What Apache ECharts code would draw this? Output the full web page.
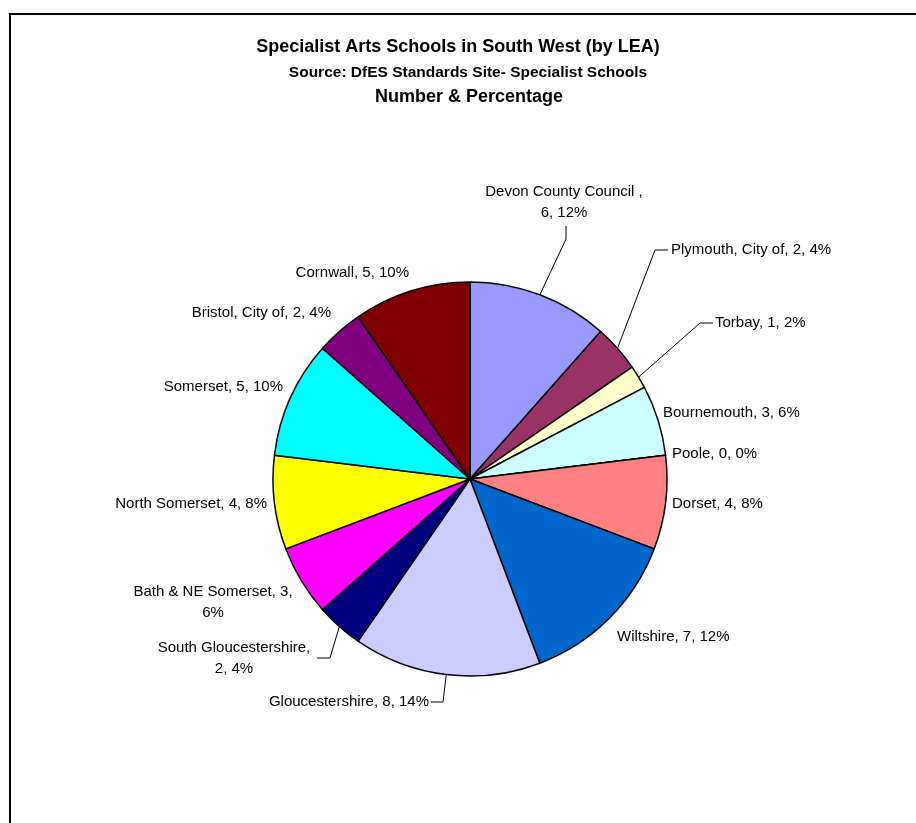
<!DOCTYPE html>
<html>
<head>
<meta charset="utf-8">
<title>Specialist Arts Schools in South West (by LEA)</title>
<script src="https://cdn.jsdelivr.net/npm/echarts@6/dist/echarts.min.js"></script>
<style>
  html, body { margin: 0; padding: 0; background: #ffffff; }
  #chart { width: 916px; height: 823px; }
</style>
</head>
<body>
<div id="chart"></div>
<script>
// Local education authorities, clockwise from twelve o'clock
const authorities = [
  'Devon County Council ', 'Plymouth, City of', 'Torbay', 'Bournemouth', 'Poole',
  'Dorset', 'Wiltshire', 'Gloucestershire', 'South Gloucestershire',
  'Bath & NE Somerset', 'North Somerset', 'Somerset', 'Bristol, City of', 'Cornwall'
];
// Number of specialist arts schools per authority
const schools = [6, 2, 1, 3, 0, 4, 7, 8, 2, 3, 4, 5, 2, 5];
// Percentage shares as printed on the labels
const shares = ['12%', '4%', '2%', '6%', '0%', '8%', '12%', '14%', '4%', '6%', '8%', '10%', '4%', '10%'];

// Fill colour of each slice
const sliceColors = [
  '#9999FF', '#993366', '#FFFFCC', '#CCFFFF', '#660066', '#FF8080', '#0066CC',
  '#CCCCFF', '#000080', '#FF00FF', '#FFFF00', '#00FFFF', '#800080', '#800000'
];

// Where each label sits; "wrap" breaks the text after the name or after the count,
// "guide" lists the bend and end points of a leader line
const labelSpots = [
  { x: 564, y: 202, align: 'center', wrap: 'name', guide: [[566, 239], [566, 226]] },
  { x: 671, y: 250, align: 'left', guide: [[655, 250], [668, 250]] },
  { x: 715, y: 323, align: 'left', guide: [[700, 323], [713, 323]] },
  { x: 663, y: 413, align: 'left' },
  { x: 672, y: 454, align: 'left' },
  { x: 672, y: 504, align: 'left' },
  { x: 617, y: 637, align: 'left' },
  { x: 429, y: 702, align: 'right', guide: [[443, 702], [431, 702]] },
  { x: 234, y: 658, align: 'center', wrap: 'name', guide: [[330, 658], [317, 658]] },
  { x: 213, y: 602, align: 'center', wrap: 'value' },
  { x: 267, y: 504, align: 'right' },
  { x: 283, y: 387, align: 'right' },
  { x: 331, y: 313, align: 'right' },
  { x: 409, y: 273, align: 'right' }
];

const FONT = 'Arial, "Liberation Sans", sans-serif';

const pieData = authorities.map((name, i) => ({
  name: name,
  value: schools[i],
  itemStyle: { color: sliceColors[i] },
  labelLine: { show: !!labelSpots[i].guide }
}));

function labelText(params) {
  const i = params.dataIndex;
  const spot = labelSpots[i];
  const name = authorities[i];
  const count = schools[i];
  const share = shares[i];
  if (spot.wrap === 'name') return name + ',\n' + count + ', ' + share;
  if (spot.wrap === 'value') return name + ', ' + count + ',\n' + share;
  return name + ', ' + count + ', ' + share;
}

const chart = echarts.init(document.getElementById('chart'), null, { renderer: 'canvas' });

chart.setOption({
  animation: false,
  backgroundColor: '#ffffff',
  title: [
    {
      text: 'Specialist Arts Schools in South West (by LEA)',
      left: 453, top: 33, textAlign: 'center',
      textStyle: { fontFamily: FONT, fontWeight: 'bold', fontSize: 18, color: '#000' }
    },
    {
      text: 'Source: DfES Standards Site- Specialist Schools',
      left: 463, top: 60, textAlign: 'center',
      textStyle: { fontFamily: FONT, fontWeight: 'bold', fontSize: 15.5, color: '#000' }
    },
    {
      text: 'Number & Percentage',
      left: 464, top: 83, textAlign: 'center',
      textStyle: { fontFamily: FONT, fontWeight: 'bold', fontSize: 18, color: '#000' }
    }
  ],
  graphic: [
    {
      type: 'rect',
      silent: true,
      shape: { x: 10, y: 14, width: 1000, height: 1000 },
      style: { fill: null, stroke: '#000', lineWidth: 2 }
    }
  ],
  series: [
    {
      type: 'pie',
      center: [470, 479],
      radius: 197,
      startAngle: 90,
      clockwise: true,
      minAngle: 0,
      avoidLabelOverlap: false,
      emphasis: { disabled: true },
      itemStyle: { borderColor: '#000', borderWidth: 1.5 },
      label: {
        show: true,
        position: 'outside',
        formatter: labelText,
        fontFamily: FONT,
        fontSize: 15,
        lineHeight: 21,
        color: '#000'
      },
      labelLine: {
        show: true,
        length: 10,
        length2: 10,
        smooth: false,
        lineStyle: { color: '#000', width: 1 }
      },
      labelLayout: function (params) {
        const spot = labelSpots[params.dataIndex];
        const layout = {
          x: spot.x,
          y: spot.y,
          align: spot.align,
          verticalAlign: 'middle'
        };
        if (spot.guide && params.labelLinePoints) {
          layout.labelLinePoints = [params.labelLinePoints[0]].concat(spot.guide);
        }
        return layout;
      },
      data: pieData
    }
  ]
});
</script>
</body>
</html>
